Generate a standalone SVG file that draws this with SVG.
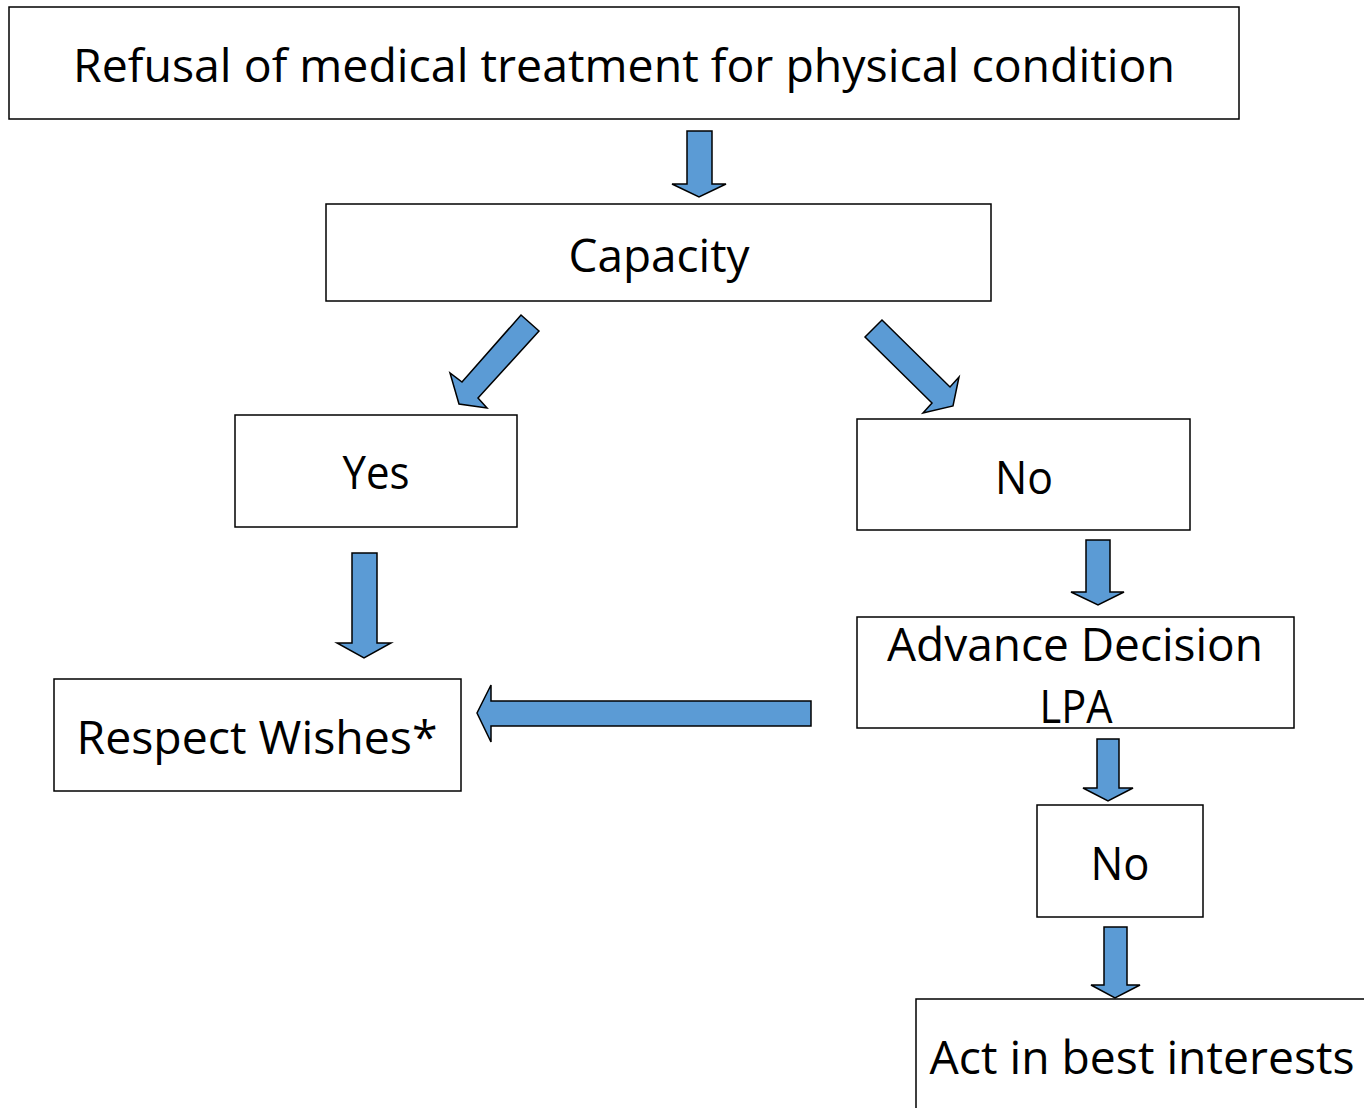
<svg xmlns="http://www.w3.org/2000/svg" width="1364" height="1108" viewBox="0 0 1364 1108">
<style>
.box{fill:#fff;stroke:#000;stroke-width:1.5}
.t{font-family:"Open Sans","Liberation Sans",sans-serif;font-size:46px;fill:#000;text-anchor:middle}
.arr{fill:#5B9BD5;stroke:#000;stroke-width:1.5;stroke-linejoin:miter}
</style>
<rect width="1364" height="1108" fill="#fff"/>
<g id="n-refusal"><rect class="box" x="9" y="7" width="1230" height="112"/><text class="t" x="624" y="82" textLength="1102" lengthAdjust="spacingAndGlyphs">Refusal of medical treatment for physical condition</text></g>
<g id="n-capacity"><rect class="box" x="326" y="204" width="665" height="97"/><text class="t" x="659" y="272" textLength="181" lengthAdjust="spacingAndGlyphs">Capacity</text></g>
<g id="n-yes"><rect class="box" x="235" y="415" width="282" height="112"/><text class="t" x="376" y="489" textLength="67" lengthAdjust="spacingAndGlyphs">Yes</text></g>
<g id="n-no1"><rect class="box" x="857" y="419" width="333" height="111"/><text class="t" x="1024" y="494" textLength="58" lengthAdjust="spacingAndGlyphs">No</text></g>
<g id="n-advance"><rect class="box" x="857" y="617" width="437" height="111"/><text class="t" x="1075" y="661" textLength="376" lengthAdjust="spacingAndGlyphs">Advance Decision</text><text class="t" x="1076" y="723" textLength="73" lengthAdjust="spacingAndGlyphs">LPA</text></g>
<g id="n-respect"><rect class="box" x="54" y="679" width="407" height="112"/><text class="t" x="257" y="754" textLength="361" lengthAdjust="spacingAndGlyphs">Respect Wishes*</text></g>
<g id="n-no2"><rect class="box" x="1037" y="805" width="166" height="112"/><text class="t" x="1120" y="880" textLength="59" lengthAdjust="spacingAndGlyphs">No</text></g>
<g id="n-act"><rect class="box" x="916" y="999" width="460" height="130"/><text class="t" x="1142" y="1074" textLength="425" lengthAdjust="spacingAndGlyphs">Act in best interests</text></g>
<g id="connectors">
<polygon class="arr" points="687,131 712,131 712,184 726,184 699,197 672,184 687,184"/>
<polygon class="arr" points="521,315 539,331 478,398 487,408 459,404 450,373 462,382"/>
<polygon class="arr" points="865,337 882,320 950,387 959,377 953,406 923,413 932,403"/>
<polygon class="arr" points="352,553 377,553 377,643 391,643 364,658 337,643 352,643"/>
<polygon class="arr" points="1086,540 1110,540 1110,592 1124,592 1098,605 1071,592 1086,592"/>
<polygon class="arr" points="1097,739 1119,739 1119,788 1133,788 1108,801 1083,788 1097,788"/>
<polygon class="arr" points="1104,927 1127,927 1127,985 1140,985 1115,998 1091,985 1104,985"/>
<polygon class="arr" points="811,701 811,726 491,726 491,742 477,713 491,685 491,701"/>
</g>
</svg>
